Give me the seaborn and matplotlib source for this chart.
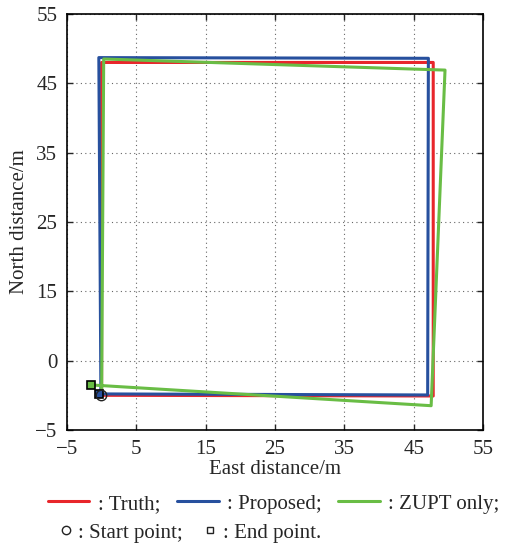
import numpy as np
import pandas as pd
import matplotlib
matplotlib.use("Agg")
import matplotlib.pyplot as plt
import seaborn as sns
from matplotlib.lines import Line2D

# trajectories (east, north) in metres
truth_e = [0.0, 0.0, 47.8, 47.8, 0.0]
truth_n = [0.0, 48.0, 48.0, -0.1, 0.0]
prop_e = [-0.1, -0.4, 47.1, 47.0, -0.4]
prop_n = [0.0, 48.7, 48.6, 0.05, 0.2]
zupt_e = [0.0, 0.3, 49.5, 47.5, -1.6]
zupt_n = [0.0, 48.5, 46.9, -1.5, 1.5]

start_pt = (-0.1, 0.0)
end_prop = (-0.4, 0.2)
end_zupt = (-1.6, 1.5)

xticks = [-5, 5, 15, 25, 35, 45, 55]
yticks = [-5, 5, 15, 25, 35, 45, 55]
ytick_labels = ["\u22125", "0", "15", "25", "35", "45", "55"]
xtick_labels = ["\u22125", "5", "15", "25", "35", "45", "55"]

RED = "#e8262b"
BLUE = "#27509e"
GREEN = "#69bd45"

sns.set_style("ticks")
plt.rcParams["font.family"] = ["Liberation Serif", "DejaVu Serif"]

fig = plt.figure(figsize=(5.07, 5.46), dpi=100)
ax = fig.add_axes([0.132, 0.2125, 0.821, 0.762])

df = pd.concat([
    pd.DataFrame({"e": truth_e, "n": truth_n, "s": "Truth"}),
    pd.DataFrame({"e": prop_e, "n": prop_n, "s": "Proposed"}),
    pd.DataFrame({"e": zupt_e, "n": zupt_n, "s": "ZUPT only"}),
])
for name, col in [("Truth", RED), ("Proposed", BLUE), ("ZUPT only", GREEN)]:
    d = df[df.s == name]
    sns.lineplot(data=d, x="e", y="n", sort=False, estimator=None, color=col,
                 lw=2.2, ax=ax, legend=False)

ax.plot([end_zupt[0]], [end_zupt[1]], marker="s", ms=6, mfc=GREEN, mec="black", mew=1.2, ls="none")
ax.plot([end_prop[0]], [end_prop[1]], marker="s", ms=6, mfc=BLUE, mec="black", mew=1.2, ls="none")
ax.plot([start_pt[0]], [start_pt[1]], marker="o", ms=7.5, mfc="none", mec="#222222", mew=1.0, ls="none")

ax.set_xlim(-5, 55)
ax.set_ylim(-5, 55)
ax.set_xticks(xticks)
ax.set_xticklabels(xtick_labels)
ax.set_yticks(yticks)
ax.set_yticklabels(ytick_labels)
ax.grid(True, ls=(0, (1, 3)), color="#666666", lw=0.8)
ax.tick_params(direction="in", top=True, right=True, labelsize=15, length=4, width=1, pad=7)
for sp in ax.spines.values():
    sp.set_linewidth(1.2)
    sp.set_color("black")
ax.set_xlabel("East distance/m", fontsize=15, labelpad=1)
ax.set_ylabel("North distance/m", fontsize=15, labelpad=4)

h1 = [Line2D([], [], color=RED, lw=2.2), Line2D([], [], color=BLUE, lw=2.2),
      Line2D([], [], color=GREEN, lw=2.2)]
fig.legend(h1, [": Truth;", ": Proposed;", ": ZUPT only;"], ncol=3,
           loc="center", bbox_to_anchor=(0.54, 0.077), frameon=False,
           fontsize=15, handlelength=2.0, handletextpad=0.4, columnspacing=0.8)
h2 = [Line2D([], [], marker="o", ms=6, mfc="none", mec="#222222", ls="none"),
      Line2D([], [], marker="s", ms=5, mfc="none", mec="#222222", ls="none")]
fig.legend(h2, [": Start point;", ": End point."], ncol=2, loc="center",
           bbox_to_anchor=(0.375, 0.024), frameon=False, fontsize=15,
           handlelength=0.6, handletextpad=0.3, columnspacing=1.0)

fig.savefig("out.png", dpi=100)
